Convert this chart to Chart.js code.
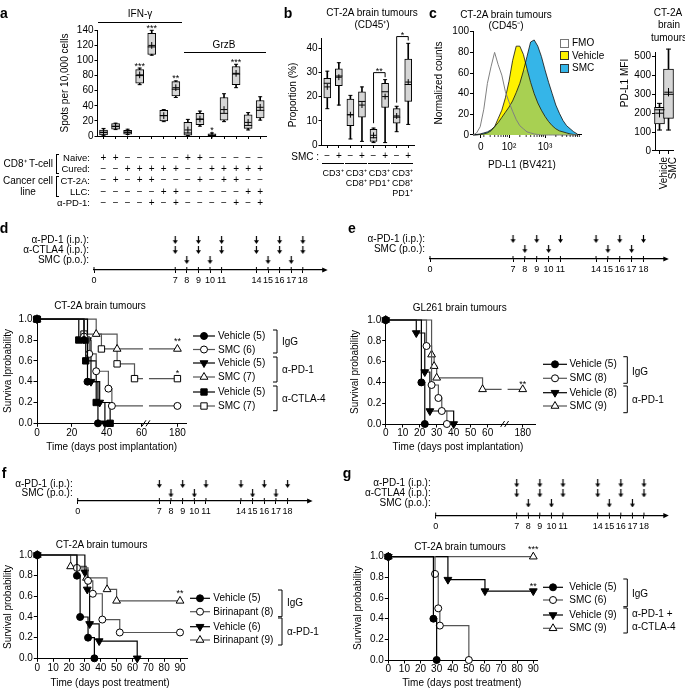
<!DOCTYPE html>
<html><head><meta charset="utf-8"><title>Figure</title>
<script src="https://cdn.jsdelivr.net/npm/chart.js"></script>
<style>
html,body{margin:0;padding:0;background:#fff;}
#fig{position:relative;width:685px;height:689px;overflow:hidden;background:#fff;font-family:"Liberation Sans",Arial,Helvetica,sans-serif;color:#000;}
#fig canvas{position:absolute;left:0;top:0;}
.t{position:absolute;white-space:nowrap;font-size:10px;line-height:1;}
.ln{position:absolute;height:0;border-top:1px solid #000;}
.br{position:absolute;width:3px;border:1px solid #000;border-right:none;box-sizing:border-box;}
.sw{position:absolute;width:9px;height:9px;box-sizing:border-box;border:1px solid #333;}
</style></head><body><div id="fig"></div>
<script>
// ---------------- DATA ----------------
// Panel a (ELISpot)
const aNaive   = ['+','+','−','−','−','−','−','+','+','−','−','−','−','−'];
const aCured   = ['−','−','+','+','+','+','+','−','−','+','+','+','+','+'];
const aCT2A    = ['−','+','−','+','+','−','−','−','+','−','+','+','−','−'];
const aLLC     = ['−','−','−','−','−','+','+','−','−','−','−','−','+','+'];
const aAntiPD1 = ['−','−','−','−','+','−','+','−','−','−','−','+','−','+'];
const aQ1   = [1.5, 9, 2.5, 70, 108, 20, 53, 1, 15, 0.5, 21, 68, 10, 24];
const aQ3   = [8, 16.5, 7.5, 88, 136, 34, 72, 18, 30, 3, 51, 92, 28, 47];
const aMin  = [1, 8.5, 2, 68, 107, 19, 51, 0.5, 13, 0, 19, 64, 8, 21];
const aMax  = [10, 17, 9, 90, 140, 35, 73, 22, 33, 4, 56, 95, 31, 52];
const aMed  = [5, 13, 5, 80, 118, 27, 62, 4, 22, 1, 30, 82, 14, 34];
const aMean = [4.5, 12.5, 5, 81, 120, 27, 64, 8, 22.5, 1.2, 35, 83, 18, 38];
const aStars = ['','','','***','***','','**','','','*','','***','',''];
const aYTicks = [0,20,40,60,80,100,120,140];

// Panel b
const bSMC  = ['−','+','−','+','−','+','−','+'];
const bQ1   = [19.5, 24.5, 8, 11.5, 1.5, 15.5, 9, 18];
const bQ3   = [27.5, 31.5, 19, 22, 6.5, 25.5, 15, 35.5];
const bMin  = [15, 16.5, 2.5, 1.5, 1, 1, 5.5, 8.5];
const bMax  = [30.5, 34, 20.5, 24, 7, 27, 16, 42];
const bMed  = [25.5, 28.5, 12.5, 18, 3, 22, 11.5, 25];
const bMean = [24, 28, 12.5, 16.5, 4, 20, 12, 26];
const bGroupLabels = [['CD3⁺'],['CD3⁺','CD8⁺'],['CD3⁺','PD1⁺'],['CD3⁺','CD8⁺','PD1⁺']];
const bSig = [[4,5,29.9,9,28,'**'],[6,7,44.8,17.5,43.2,'*']];
const bYTicks = [0,10,20,30,40];

// Panel c histogram (x in display decades of PD-L1 BV421)
const pdl1X = [1.0,1.1,1.2,1.3,1.4,1.5,1.6,1.7,1.8,1.9,2.0,2.1,2.2,2.3,2.4,2.5,2.6,2.7,2.8,2.9,3.0,3.1,3.2,3.3,3.4,3.5,3.6,3.7,3.8,3.9];
const fmoCounts     = [0,2,8,25,50,66,80,68,58,42,32,23,15,9,6,3,2,1,0.5,0,0,0,0,0,0,0,0,0,0,0];
const vehicleCounts = [0,0,0.5,1,2,4,8,16,24,36,52,72,86,86,78,64,51,40,31,24,18,13,9,6,4,3,2,1,0.5,0];
const smcCounts     = [0,0.5,1,2,3,5,8,12,17,22,27,33,41,50,62,76,90,92,86,76,63,51,40,29,21,14,9,6,3,1];
const overlapCounts = [0,0,0.5,1,2,4,8,12,17,22,27,33,41,50,62,64,51,40,31,24,18,13,9,6,4,3,2,1,0.5,0];
const cXTickVals = [1.214, 2, 3];
const cXTickLabels = ['0','10²','10³'];
const cYTicks = [0,20,40,60,80,100];
// Panel c MFI box
const cCats = ['Vehicle','SMC'];
const cQ1 = [143, 173], cQ3 = [231, 433], cMin = [111, 111], cMax = [252, 539], cMed = [218, 300], cMean = [200, 311];
const cMfiTicks = [0,100,200,300,400,500];

// Timelines
const tlTicks = [0,7,8,9,10,11,14,15,16,17,18];
const rows3 = ['α-PD-1 (i.p.):','α-CTLA4 (i.p.):','SMC (p.o.):'];
const rows2 = ['α-PD-1 (i.p.):','SMC (p.o.):'];
const antibodyDays = [7,9,11,14,16,18];
const smcDays = [8,10,15,17];

// Survival [day, probability]
const dVehIgG   = [[0,1],[27,0.8],[29,0.4],[35,0]];
const dSmcIgG   = [[0,1],[27,0.833],[30,0.667],[34,0.5],[41,0.333],[43,0.167],[180,0.167]];
const dVehPD1   = [[0,1],[29,0.8],[31,0.4],[36,0.2],[39,0]];
const dSmcPD1   = [[0,1],[34,0.857],[46,0.714],[180,0.714]];
const dVehCTLA4 = [[0,1],[24,0.8],[28,0.6],[34,0.2],[42,0]];
const dSmcCTLA4 = [[0,1],[27,0.857],[37,0.714],[46,0.571],[56,0.429],[180,0.429]];
const dXTicks = [0,20,40,60,180];

const eVehIgG = [[0,1],[21,0.4],[23,0]];
const eSmcIgG = [[0,1],[24,0.75],[27,0.375],[31,0.25],[33,0.125],[36,0]];
const eVehPD1 = [[0,1],[18,0.875],[23,0.5],[26,0.125],[40,0]];
const eSmcPD1 = [[0,1],[27,0.667],[28.5,0.556],[30,0.444],[57,0.333],[180,0.333]];
const eXTicks = [0,10,20,30,40,50,60,180];

const fVehIgG = [[0,1],[25,0.8],[27,0.4],[32,0.2],[36,0]];
const fBirIgG = [[0,1],[25,0.875],[32,0.75],[35,0.625],[41,0.375],[52,0.25],[90,0.25]];
const fVehPD1 = [[0,1],[30,0.833],[31.5,0.667],[33,0.333],[39,0.167],[63,0]];
const fBirPD1 = [[0,1],[21,0.889],[31,0.778],[44,0.667],[50,0.556],[90,0.556]];

const gVehIgG   = [[0,1],[28,0.4],[30,0]];
const gSmcIgG   = [[0,1],[29,0.833],[31,0.5],[32,0.333],[50,0]];
const gVehCombo = [[0,1],[37,0.778],[60,0.667],[90,0.667]];
const gSmcCombo = [[0,1],[90,1]];
const fgXTicks = [0,10,20,30,40,50,60,70,80,90];
const kmYTicks = [0,0.2,0.4,0.6,0.8,1.0];

// ---------------- SETUP ----------------
const FF = '"Liberation Sans", Arial, Helvetica, sans-serif';
const W = 685, H = 689;
const fig = document.getElementById('fig');

class BrokenScale extends Chart.LinearScale {
  static id = 'broken';
  _fw(v){ const b=this.options.breakAt, r=this.options.breakRatio; return v<=b ? v : b+(v-b)*r; }
  getPixelForValue(v){
    if (v===null || v===undefined || isNaN(v)) return NaN;
    const a=this._fw(this.min), z=this._fw(this.max);
    return this.getPixelForDecimal((this._fw(v)-a)/(z-a));
  }
  getValueForPixel(p){
    const d=this.getDecimalForPixel(p), a=this._fw(this.min), z=this._fw(this.max);
    const dv=a+d*(z-a), b=this.options.breakAt, r=this.options.breakRatio;
    return dv<=b ? dv : b+(dv-b)/r;
  }
}
Chart.register(BrokenScale);

function merge(a,b){
  for (const k in b){
    const v=b[k];
    if (v && typeof v==='object' && !Array.isArray(v) && !(v instanceof HTMLElement) && a[k] && typeof a[k]==='object') merge(a[k],v);
    else a[k]=v;
  }
  return a;
}
function mkCanvas(){
  const c=document.createElement('canvas');
  c.width=W; c.height=H; c.style.width=W+'px'; c.style.height=H+'px';
  fig.appendChild(c); return c;
}
function opts(plot, scales){
  scales.x.afterFit = s=>{ s.height = H - plot.b; };
  scales.y.afterFit = s=>{ s.width = plot.l; };
  return {responsive:false, maintainAspectRatio:false, animation:false, events:[],
    layout:{padding:{left:0, top:plot.t, right:W-plot.r, bottom:0}},
    plugins:{legend:{display:false}, tooltip:{enabled:false}, colors:{enabled:false}},
    scales};
}
function axis(pos, extra){
  const o={position:pos,
    border:{display:true,color:'#000',width:1},
    grid:{display:true,drawOnChartArea:false,drawTicks:true,tickLength:3,color:'#000',lineWidth:1,offset:false},
    ticks:{color:'#000',font:{family:FF,size:10},padding:1,autoSkip:false,maxRotation:0,minRotation:0}};
  return merge(o, extra||{});
}
function fixed(vals){ return s=>{ s.ticks = vals.map(v=>({value:v})); }; }

function boxSets(q1,q3,mn,mx,med,mean,bw,capR){
  const pt={type:'line',showLine:false,borderColor:'#000',pointBorderColor:'#000',pointBackgroundColor:'#000',pointBorderWidth:1,clip:false};
  return [
    Object.assign({},pt,{data:mean,pointStyle:'cross',pointRadius:bw*0.42,order:1}),
    Object.assign({},pt,{data:med,pointStyle:'line',pointRadius:bw/2,order:2}),
    Object.assign({},pt,{data:mn,pointStyle:'line',pointRadius:capR,order:3}),
    Object.assign({},pt,{data:mx,pointStyle:'line',pointRadius:capR,order:3}),
    {type:'bar',data:q1.map((v,i)=>[v,q3[i]]),backgroundColor:'#d6d6d6',borderColor:'#000',borderWidth:1,borderSkipped:false,barThickness:bw,grouped:false,order:4,clip:false},
    {type:'bar',data:mn.map((v,i)=>[v,mx[i]]),backgroundColor:'#000',borderColor:'transparent',borderWidth:0,barThickness:1,grouped:false,order:5,clip:false}
  ];
}

function T(x,y,s,o){
  o=o||{};
  const d=document.createElement('div'); d.className='t'; d.textContent=s;
  d.style.left=x+'px'; d.style.top=y+'px';
  const a=o.a||'l';
  d.style.transform = o.rot ? 'translate(-50%,-50%) rotate(-90deg)' :
    'translate('+(a==='c'?'-50%':a==='r'?'-100%':'0')+',-50%)';
  if (o.size) d.style.fontSize=o.size+'px';
  if (o.bold) d.style.fontWeight='bold';
  fig.appendChild(d); return d;
}
function HL(x0,x1,y){ const d=document.createElement('div'); d.className='ln'; d.style.left=x0+'px'; d.style.top=y+'px'; d.style.width=(x1-x0)+'px'; fig.appendChild(d); }
function BR(x,y0,y1){ const d=document.createElement('div'); d.className='br'; d.style.left=x+'px'; d.style.top=y0+'px'; d.style.height=(y1-y0)+'px'; fig.appendChild(d); }
function SW(x,y,bg,bc){ const d=document.createElement('div'); d.className='sw'; d.style.left=x+'px'; d.style.top=y+'px'; d.style.background=bg; d.style.borderColor=bc; fig.appendChild(d); }

function drawMark(c, d, x, y){
  const r=d.pointRadius, st=d.pointStyle;
  let rad=(d.pointRotation||0)*Math.PI/180;
  c.save(); c.fillStyle=d.pointBackgroundColor; c.strokeStyle=d.pointBorderColor; c.lineWidth=d.pointBorderWidth; c.beginPath();
  if (st==='circle') c.arc(x,y,r,0,Math.PI*2);
  else if (st==='rect'){ const s=r*Math.SQRT1_2; c.rect(x-s,y-s,2*s,2*s); }
  else if (st==='triangle'){ for(let k=0;k<3;k++){ const px=x+Math.sin(rad)*r, py=y-Math.cos(rad)*r; if(k) c.lineTo(px,py); else c.moveTo(px,py); rad+=2*Math.PI/3; } c.closePath(); }
  c.fill(); c.stroke(); c.restore();
}

function km(pts, style, filled, rot){
  return {data:pts.map(p=>({x:p[0],y:p[1]})), stepped:'before', borderColor: filled?'#000':'#555', borderWidth:1.2,
    fill:false, tension:0, pointStyle:style, pointRadius: style==='circle'?3.5:4.5, pointRotation: rot||0,
    pointBackgroundColor: filled?'#000':'#fff', pointBorderColor:'#000', pointBorderWidth:1, clip:false};
}
function kmPlugin(cfg){
  return {id:'kmx', afterDatasetsDraw(ch){
    const c=ch.ctx, xs=ch.scales.x, ys=ch.scales.y, ds=ch.data.datasets;
    c.save();
    if (cfg.brk!=null){
      const bx=xs.getPixelForValue(cfg.brk);
      c.fillStyle='#fff'; c.fillRect(bx-3, ys.top-3, 6, ys.bottom-ys.top+2);
      c.strokeStyle='#000'; c.lineWidth=1; c.beginPath();
      [-2,2].forEach(o=>{ c.moveTo(bx+o-2, ys.bottom+3); c.lineTo(bx+o+2, ys.bottom-3); });
      c.stroke();
    }
    cfg.rows.forEach((ry,k)=>{
      const d=ds[k]; c.strokeStyle=d.borderColor; c.lineWidth=1.2; c.beginPath(); c.moveTo(cfg.x0,ry); c.lineTo(cfg.x1,ry); c.stroke();
      drawMark(c,d,(cfg.x0+cfg.x1)/2,ry);
    });
    c.strokeStyle='#000'; c.lineWidth=1; c.beginPath();
    cfg.brackets.forEach(b=>{ c.moveTo(cfg.bx-4,b[0]); c.lineTo(cfg.bx,b[0]); c.lineTo(cfg.bx,b[1]); c.lineTo(cfg.bx-4,b[1]); });
    c.stroke();
    c.fillStyle='#000'; c.font='9px '+FF; c.textAlign='center'; c.textBaseline='alphabetic';
    cfg.stars.forEach(s=>{ c.fillText(s[2], xs.getPixelForValue(s[0]), ys.getPixelForValue(s[1])-s[3]+5.2); });
    c.restore();
  }};
}
function kmChart(plot, datasets, xopt, cfg){
  return new Chart(mkCanvas(), {type:'line', data:{datasets},
    options: opts(plot, {
      x: axis('bottom', merge({type:'linear', grid:{tickLength:3.5}, ticks:{padding:0, callback:v=>String(v)}}, xopt)),
      y: axis('left', {type:'linear', min:0, max:1, grid:{tickLength:3.5}, afterBuildTicks:fixed(kmYTicks), ticks:{callback:v=>v.toFixed(1)}})
    }), plugins:[kmPlugin(cfg)]});
}

const ARROW = (()=>{ const c=document.createElement('canvas'); c.width=7; c.height=8; const x=c.getContext('2d');
  x.strokeStyle='#000'; x.lineWidth=1.2; x.beginPath(); x.moveTo(3.5,0); x.lineTo(3.5,5); x.stroke();
  x.fillStyle='#000'; x.beginPath(); x.moveTo(1,4.2); x.lineTo(6,4.2); x.lineTo(3.5,8); x.closePath(); x.fill(); return c; })();
const tlPlugin = {id:'tl', afterDraw(ch){
  const c=ch.ctx, xs=ch.scales.x, y0=ch.chartArea.bottom;
  c.save(); c.fillStyle='#000'; c.beginPath(); c.moveTo(xs.right+4,y0); c.lineTo(xs.right-1.5,y0-2.6); c.lineTo(xs.right-1.5,y0+2.6); c.closePath(); c.fill();
  c.strokeStyle='#000'; c.lineWidth=1; c.beginPath();
  tlTicks.forEach(v=>{ const p=xs.getPixelForValue(v); c.moveTo(p,y0); c.lineTo(p,y0-3); }); c.stroke(); c.restore();
}};
function timeline(plot, rows, doses, ymin){
  const n=rows.length, yv=rows.map((_,i)=>n-i);
  return new Chart(mkCanvas(), {type:'scatter',
    data:{datasets: doses.map((days,i)=>({data:days.map(d=>({x:d,y:yv[i]})), pointStyle:ARROW, pointRadius:4, clip:false}))},
    options: opts(plot, {
      x: axis('bottom', {type:'linear', min:0, max:19.8, border:{width:1.2}, afterBuildTicks:fixed(tlTicks), ticks:{font:{size:9}, padding:2.5, callback:v=>String(v)}}),
      y: axis('left', {type:'linear', min:ymin, max:n+1, border:{display:false}, grid:{display:false}, afterBuildTicks:fixed(yv), ticks:{padding:2, callback:v=>rows[n-v]}})
    }), plugins:[tlPlugin]});
}

// ---------------- PANEL a ----------------
const aPlot = {l:97.5, t:30.3, r:266.2, b:136};
const aLabels = aNaive.map((_,i)=>[aNaive[i],aCured[i],aCT2A[i],aLLC[i],aAntiPD1[i]]);
new Chart(mkCanvas(), {type:'bar', data:{labels:aLabels, datasets:boxSets(aQ1,aQ3,aMin,aMax,aMed,aMean,8,2)},
  options: opts(aPlot, {
    x: axis('bottom', {type:'category', offset:true, ticks:{font:{size:10,lineHeight:1.133}, padding:13.3}}),
    y: axis('left', {type:'linear', min:0, max:140, afterBuildTicks:fixed(aYTicks)})
  }),
  plugins:[{id:'astars', afterDatasetsDraw(ch){ const c=ch.ctx,xs=ch.scales.x,ys=ch.scales.y; c.save(); c.fillStyle='#000'; c.font='9px '+FF; c.textAlign='center'; c.textBaseline='alphabetic';
    aStars.forEach((s,i)=>{ if(s) c.fillText(s, xs.getPixelForValue(i), ys.getPixelForValue(aMax[i])+0.5); }); c.restore(); }}]
});

// ---------------- PANEL b ----------------
const bPlot = {l:321.5, t:38.5, r:414, b:145};
new Chart(mkCanvas(), {type:'bar', data:{labels:bSMC, datasets:boxSets(bQ1,bQ3,bMin,bMax,bMed,bMean,7,2)},
  options: opts(bPlot, {
    x: axis('bottom', {type:'category', offset:true, ticks:{padding:2.7}}),
    y: axis('left', {type:'linear', min:0, max:44, afterBuildTicks:fixed(bYTicks)})
  }),
  plugins:[{id:'bsig', afterDatasetsDraw(ch){ const c=ch.ctx,xs=ch.scales.x,ys=ch.scales.y; c.save(); c.strokeStyle='#000'; c.lineWidth=1; c.fillStyle='#000'; c.font='9px '+FF; c.textAlign='center'; c.textBaseline='alphabetic';
    bSig.forEach(b=>{ const x0=xs.getPixelForValue(b[0]), x1=xs.getPixelForValue(b[1]), yt=ys.getPixelForValue(b[2]);
      c.beginPath(); c.moveTo(x0,ys.getPixelForValue(b[3])); c.lineTo(x0,yt); c.lineTo(x1,yt); c.lineTo(x1,ys.getPixelForValue(b[4])); c.stroke();
      c.fillText(b[5],(x0+x1)/2,yt+1); });
    c.restore(); }}]
});

// ---------------- PANEL c ----------------
const cPlot = {l:473, t:31.7, r:581, b:135};
const xy = arr => pdl1X.map((x,i)=>({x, y:arr[i]}));
const lineBase = {pointRadius:0, tension:0, clip:false};
new Chart(mkCanvas(), {type:'line', data:{datasets:[
    Object.assign({data:xy(fmoCounts), borderColor:'#808080', borderWidth:1, fill:false, order:1}, lineBase),
    Object.assign({data:xy(vehicleCounts), borderColor:'#111', borderWidth:0.8, fill:false, order:2}, lineBase),
    Object.assign({data:xy(smcCounts), borderColor:'#111', borderWidth:0.8, fill:false, order:3}, lineBase),
    Object.assign({data:xy(overlapCounts), borderColor:'transparent', borderWidth:0, backgroundColor:'#a8d052', fill:'origin', order:4}, lineBase),
    Object.assign({data:xy(vehicleCounts), borderColor:'transparent', borderWidth:0, backgroundColor:'#fff200', fill:'origin', order:5}, lineBase),
    Object.assign({data:xy(smcCounts), borderColor:'transparent', borderWidth:0, backgroundColor:'#35b5e8', fill:'origin', order:6}, lineBase)
  ]},
  options: opts(cPlot, {
    x: axis('bottom', {type:'linear', min:1, max:4, afterBuildTicks:fixed(cXTickVals), ticks:{padding:3, callback:(v,i)=>cXTickLabels[i]}}),
    y: axis('left', {type:'linear', min:0, max:100, afterBuildTicks:fixed(cYTicks)})
  }),
  plugins:[{id:'minor', afterDraw(ch){ const c=ch.ctx, xs=ch.scales.x, y0=ch.chartArea.bottom; c.save(); c.strokeStyle='#000'; c.lineWidth=0.8; c.beginPath();
    for (let d=1; d<=3; d++) for (let k=2;k<=9;k++){ const v=d+Math.log10(k); if(v<4){ const p=xs.getPixelForValue(v); c.moveTo(p,y0); c.lineTo(p,y0+2); } }
    c.stroke(); c.restore(); }}]
});
const cBoxPlot = {l:655, t:52.7, r:682, b:151};
new Chart(mkCanvas(), {type:'bar', data:{labels:cCats, datasets:boxSets(cQ1,cQ3,cMin,cMax,cMed,cMean,10,2.5)},
  options: opts(cBoxPlot, {
    x: axis('bottom', {type:'category', offset:true, ticks:{minRotation:90, maxRotation:90, padding:3, labelOffset:5}}),
    y: axis('left', {type:'linear', min:0, max:520, afterBuildTicks:fixed(cMfiTicks)})
  })
});

// ---------------- TIMELINES ----------------
timeline({l:94, t:230, r:323.7, b:270}, rows3, [antibodyDays, antibodyDays, smcDays], 0);
timeline({l:430, t:229, r:664.8, b:259}, rows2, [antibodyDays, smcDays], 0);
timeline({l:77.7, t:474.5, r:308.6, b:501}, rows2, [antibodyDays, smcDays], 0.21);
timeline({l:435.7, t:473.2, r:664.8, b:515.6}, rows3, [antibodyDays, antibodyDays, smcDays], -0.2);

// ---------------- SURVIVAL ----------------
kmChart({l:37, t:319.2, r:186.7, b:423.3},
  [km(dVehIgG,'circle',true), km(dSmcIgG,'circle',false), km(dVehPD1,'triangle',true,180), km(dSmcPD1,'triangle',false), km(dVehCTLA4,'rect',true), km(dSmcCTLA4,'rect',false)],
  {type:'broken', min:0, max:211, breakAt:60, breakRatio:0.172, afterBuildTicks:fixed(dXTicks)},
  {brk:75, x0:193, x1:215, rows:[336,349.5,363,377,392,406], bx:277, brackets:[[330,353],[357,382],[386,410.7]], stars:[[180,0.714,'**',10],[180,0.429,'*',8]]});
kmChart({l:385.7, t:320, r:535, b:424},
  [km(eVehIgG,'circle',true), km(eSmcIgG,'circle',false), km(eVehPD1,'triangle',true,180), km(eSmcPD1,'triangle',false)],
  {type:'broken', min:0, max:222, breakAt:60, breakRatio:0.172, afterBuildTicks:fixed(eXTicks)},
  {brk:118, x0:543, x1:567, rows:[364.3,378.3,392.7,406], bx:627.3, brackets:[[356.7,383.3],[386,412.7]], stars:[[180,0.333,'**',8]]});
kmChart({l:37.3, t:555, r:187, b:658.3},
  [km(fVehIgG,'circle',true), km(fBirIgG,'circle',false), km(fVehPD1,'triangle',true,180), km(fBirPD1,'triangle',false)],
  {min:0, max:94.4, afterBuildTicks:fixed(fgXTicks)},
  {brk:null, x0:190, x1:210, rows:[598.3,611.7,626.7,640], bx:282, brackets:[[590,616.7],[618,645]], stars:[[90,0.556,'**',10]]});
kmChart({l:388.3, t:556.7, r:537, b:660},
  [km(gVehIgG,'circle',true), km(gSmcIgG,'circle',false), km(gVehCombo,'triangle',true,180), km(gSmcCombo,'triangle',false)],
  {min:0, max:92.3, afterBuildTicks:fixed(fgXTicks)},
  {brk:null, x0:543, x1:563, rows:[587.3,600,615,628.3], bx:627.3, brackets:[[579,606.7],[608,633]], stars:[[90,1,'***',10],[90,0.667,'**',7.5]]});

// ---------------- TEXT ----------------
[['a',4,13],['b',288,13],['c',433,13],['d',4,228],['e',352,228],['f',4,473],['g',347,473]].forEach(p=>T(p[1],p[2],p[0],{a:'c',size:14,bold:true}));
// a
T(140,14,'IFN-γ',{a:'c'}); HL(98.3,182,22);
T(224,45,'GrzB',{a:'c'}); HL(184,266.2,52);
T(65,83,'Spots per 10,000 cells',{rot:true});
T(53,163.7,'CD8⁺ T-cell',{a:'r'}); BR(56,154,173.5);
T(28,180.7,'Cancer cell',{a:'c'}); T(28,192,'line',{a:'c'}); BR(56,176,196.5);
[['Naive:',158],['Cured:',169.4],['CT-2A:',180.7],['LLC:',192],['α-PD-1:',203.3]].forEach(r=>T(90,r[1],r[0],{a:'r',size:9.5}));
// b
T(372,13.3,'CT-2A brain tumours',{a:'c'}); T(372,25,'(CD45⁺)',{a:'c'});
T(293,95,'Proportion (%)',{rot:true});
T(319,156.7,'SMC :',{a:'r'});
(function(){ const w=(bPlot.r-bPlot.l)/8;
  bGroupLabels.forEach((g,k)=>{ const x0=bPlot.l+2*k*w+0.6, x1=bPlot.l+(2*k+2)*w-0.6; HL(x0,x1,163.3);
    g.forEach((s,j)=>T((x0+x1)/2,173+10*j,s,{a:'c',size:9})); }); })();
// c
T(506,15,'CT-2A brain tumours',{a:'c'}); T(506,26,'(CD45⁻)',{a:'c'});
T(439,83,'Normalized counts',{rot:true});
T(522,165,'PD-L1 (BV421)',{a:'c'});
SW(560,38.5,'#fff','#777'); SW(560,51,'#fff200','#333'); SW(560,63.5,'#35b5e8','#333');
T(572,43,'FMO'); T(572,55.5,'Vehicle'); T(572,68,'SMC');
T(668,13.3,'CT-2A',{a:'c'}); T(669,25,'brain',{a:'c'}); T(669,37.5,'tumours',{a:'c'});
T(625,83,'PD-L1 MFI',{rot:true});
// d
T(100,306,'CT-2A brain tumours',{a:'c'});
T(7.5,371,'Surviva lprobability',{rot:true});
T(111.7,447.3,'Time (days post implantation)',{a:'c'});
[['Vehicle (5)',336],['SMC (6)',349.5],['Vehicle (5)',363],['SMC (7)',377],['Vehicle (5)',392],['SMC (7)',406]].forEach(r=>T(218,r[1],r[0]));
T(282,342,'IgG'); T(282,370,'α-PD-1'); T(282,398.5,'α-CTLA-4');
// e
T(459.7,308.3,'GL261 brain tumours',{a:'c'});
T(355,372,'Survival probability',{rot:true});
T(458,447.3,'Time (days post implantation)',{a:'c'});
[['Vehicle (5)',364.3],['SMC (8)',378.3],['Vehicle (8)',392.7],['SMC (9)',406]].forEach(r=>T(569.5,r[1],r[0]));
T(632,371.7,'IgG'); T(632,400,'α-PD-1');
// f
T(101.7,545,'CT-2A brain tumours',{a:'c'});
T(8.3,607,'Survival probability',{rot:true});
T(110,682.7,'Time (days post treatment)',{a:'c'});
[['Vehicle (5)',598.3],['Birinapant (8)',611.7],['Vehicle (6)',626.7],['Birinapant (9)',640]].forEach(r=>T(213.3,r[1],r[0]));
T(287,603,'IgG'); T(287,631.7,'α-PD-1');
// g
T(460,546.7,'CT-2A brain tumours',{a:'c'});
T(358,608,'Survival probability',{rot:true});
T(461.7,682.7,'Time (days post treatment)',{a:'c'});
[['Vehicle (5)',587.3],['SMC (6)',600],['Vehicle (9)',615],['SMC (9)',628.3]].forEach(r=>T(569.3,r[1],r[0]));
T(632,594,'IgG'); T(632,613.7,'α-PD-1 +'); T(632,627,'α-CTLA-4');
</script></body></html>
